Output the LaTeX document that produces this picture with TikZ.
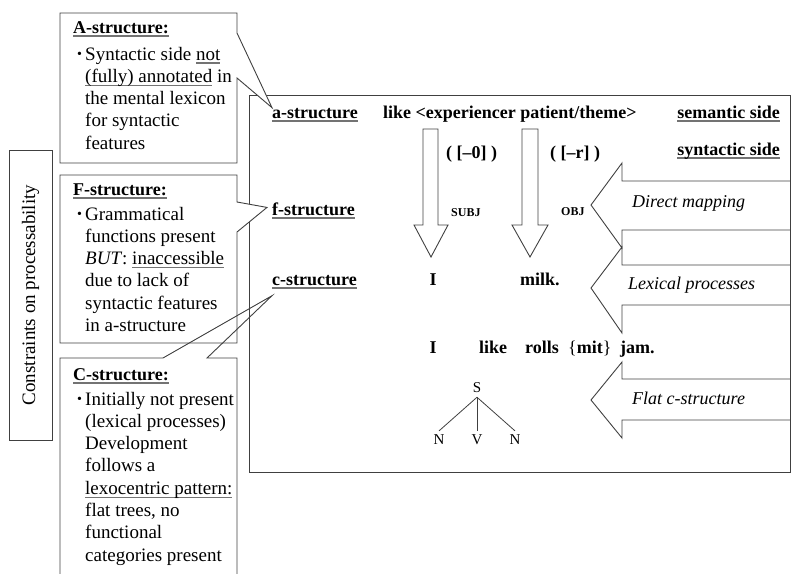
\documentclass[tikz,border=0pt]{standalone}
\usepackage{fontspec}
\setmainfont{Liberation Serif}
\usetikzlibrary{positioning}

% gray underline as in the figure
\newcommand{\undl}[1]{\setbox0\hbox{#1}\rlap{\color{black!55}\rule[-3.5pt]{\wd0}{1.1pt}}\box0\relax}
% left aligned lines, baseline on the first one
\newcommand{\stack}[1]{\begin{tabular}[t]{@{}l@{}}#1\end{tabular}}

\tikzset{
  outline/.style={draw=black!75, line width=0.9pt, line join=miter},
  boldlbl/.style={font=\fontsize{18}{18}\selectfont\bfseries, inner sep=0pt},
  sidenote/.style={font=\fontsize{18}{18}\selectfont\itshape, inner sep=0pt, anchor=west},
  boxhead/.style={font=\fontsize{18}{18}\selectfont\bfseries, inner sep=0pt, anchor=base west},
  boxbody/.style={font=\fontsize{19}{22.3}\selectfont, inner sep=0pt, anchor=base west},
  boxbullet/.style={font=\fontsize{14}{14}\selectfont, inner sep=0pt, anchor=base west},
  gramfn/.style={font=\fontsize{12}{12}\selectfont\bfseries, inner sep=0pt, anchor=west},
  treelbl/.style={font=\fontsize{15}{15}\selectfont, inner sep=4pt},
}

\begin{document}
\begin{tikzpicture}[x=1pt, y=-1pt]
    \useasboundingbox (0,0) rectangle (792,573);

    % Side label
    \node[outline, rotate=90, minimum width=290pt, minimum height=43pt, inner sep=0pt,
          font=\fontsize{19}{19}\selectfont] (cons) at (30.5,295) {Constraints on processability};

    % Main frame
    \draw[outline] (249,95) rectangle (790,472);

    % Level labels
    \node[boldlbl, anchor=base west] (astr) at (272,118) {\undl{a-structure}};
    \node[boldlbl, anchor=base west] (fstr) at (272,215) {\undl{f-structure}};
    \node[boldlbl, anchor=base west] (cstr) at (272,285) {\undl{c-structure}};

    \node[boldlbl, anchor=base west] (pred) at (383,118) {like <experiencer patient/theme>};
    \node[boldlbl, anchor=base east] (sem) at (780,118) {\undl{semantic side}};
    \node[boldlbl, anchor=base east] (syn) at (780,155) {\undl{syntactic side}};

    \node[boldlbl, anchor=base west] (featz) at (446,158) {( [–0] )};
    \node[boldlbl, anchor=base west] (featr) at (550,158) {( [–r] )};
    \node[gramfn] (subj) at (451,213) {SUBJ};
    \node[gramfn] (obj) at (561,212) {OBJ};

    % Words
    \node[boldlbl, anchor=base] (wi) at (433,285) {I};
    \node[boldlbl, anchor=base west] (milk) at (520,285) {milk.};

    \node[boldlbl, anchor=base] (wi2) at (433,353) {I};
    \node[boldlbl, anchor=base west] (like) at (479,353) {like};
    \node[boldlbl, anchor=base west] (rolls) at (525,353) {rolls};
    \node[boldlbl, anchor=base west] (mit) at (568,353) {\textmd{\{}mit\textmd{\}}};
    \node[boldlbl, anchor=base west] (jam) at (620,353) {jam.};

    % Flat tree
    \node[treelbl] (ts) at (477,388) {S};
    \node[treelbl] (tn1) at (439,440) {N};
    \node[treelbl] (tv) at (477,440) {V};
    \node[treelbl] (tn2) at (515,440) {N};
    \draw[black!75, line width=0.8pt] (ts.south) -- (tn1.north);
    \draw[black!75, line width=0.8pt] (ts.south) -- (tv.north);
    \draw[black!75, line width=0.8pt] (ts.south) -- (tn2.north);

    % Mapping arrows (down)
    \draw[outline] (423,129) -- (438,129) -- (438,225) -- (448,225) -- (431,257) -- (414,225) -- (423,225) -- cycle;
    \draw[outline] (522,129) -- (538,129) -- (538,225) -- (548,225) -- (530,257) -- (512,225) -- (522,225) -- cycle;

    % Process arrows (left)
    \foreach \ht/\st/\c/\sb/\hb in {163/181/205/230/248, 247/265/288/305/333, 362/379/400/420/438}
        \draw[outline] (790,\st) -- (622,\st) -- (622,\ht) -- (591,\c) -- (622,\hb) -- (622,\sb) -- (790,\sb);
    \node[sidenote] (direct) at (632,203) {Direct mapping};
    \node[sidenote] (lexical) at (628,285) {Lexical processes};
    \node[sidenote] (flat) at (632,398) {Flat c-structure};

    % A-structure note
    \draw[outline, fill=white] (60,13) -- (237,13) -- (237,33) -- (astr.north west) -- (237,78) -- (237,163) -- (60,163) -- cycle;
    \node[boxhead] (ahead) at (73,33) {\undl{A-structure:}};
    \node[boxbullet] (abul) at (77,58) {\textbullet};
    \node[boxbody] (abody) at (85,60) {\stack{Syntactic side \undl{not}\\ \undl{(fully) annotated} in\\ the mental lexicon\\ for syntactic\\ features}};

    % F-structure note
    \draw[outline, fill=white] (60,175) -- (237,175) -- (237,202) -- ([xshift=-5pt,yshift=3pt]fstr.west) -- (237,232) -- (237,343) -- (60,343) -- cycle;
    \node[boxhead] (fhead) at (73,195) {\undl{F-structure:}};
    \node[boxbullet] (fbul) at (77,218) {\textbullet};
    \node[boxbody] (fbody) at (85,220) {\stack{Grammatical\\ functions present\\ \textit{BUT}: \undl{inaccessible}\\ due to lack of\\ syntactic features\\ in a-structure}};

    % C-structure note
    \draw[outline] (60,580) -- (60,358) -- (163,358) -- ([yshift=-7pt]cstr.south west) -- (207,358) -- (237,358) -- (237,580);
    \node[boxhead] (chead) at (73,380) {\undl{C-structure:}};
    \node[boxbullet] (cbul) at (77,403) {\textbullet};
    \node[boxbody] (cbody) at (85,405) {\stack{Initially not present\\ (lexical processes)\\ Development\\ follows a\\ \undl{lexocentric pattern:}\\ flat trees, no\\ functional\\ categories present}};
\end{tikzpicture}
\end{document}
